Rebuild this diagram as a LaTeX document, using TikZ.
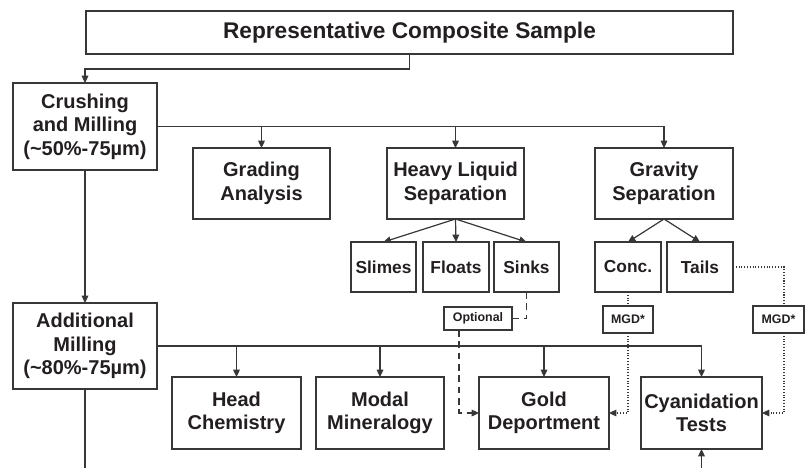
\documentclass[tikz,border=0pt]{standalone}
\usepackage{fontspec}
\setmainfont{Liberation Sans}
\usetikzlibrary{arrows.meta}
\definecolor{ink}{RGB}{35,31,32}
\definecolor{ln}{RGB}{55,55,55}
\newcommand\pbox[7][]{%
  \pgfmathsetmacro\bw{(#5-#3)*0.75}%
  \pgfmathsetmacro\bh{(#6-#4)*0.75}%
  \node[box,minimum width=\bw pt,minimum height=\bh pt,#1] (#2) at ({(#3+#5)/2},{(#4+#6)/2}) {#7};}
\begin{document}
\begin{tikzpicture}[x=0.75pt,y=-0.75pt,
  box/.style={draw=ln,line width=1.3pt,inner sep=0pt,outer sep=0pt,align=center,text=ink,
    font=\bfseries\fontsize{15}{17.6}\selectfont},
  small/.style={font=\bfseries\fontsize{13}{15}\selectfont},
  tiny/.style={font=\bfseries\fontsize{9.3}{11}\selectfont,line width=1.1pt},
  big/.style={font=\bfseries\fontsize{17}{20}\selectfont},
  conn/.style={draw=ln,line width=0.9pt},
  arr/.style={conn,-{Triangle[length=5.5pt,width=5pt]}},
  dsh/.style={draw=ln,line width=0.9pt,dash pattern=on 5pt off 3.5pt},
  dot/.style={draw=ln,line width=0.8pt,dash pattern=on 0.8pt off 1.3pt}]
\useasboundingbox (0,0) rectangle (806,468);
\pbox[big]{top}{86}{11}{733}{54}{Representative Composite Sample}
\pbox{crush}{13}{83}{157}{170}{Crushing\\and Milling\\(\textasciitilde50\%-75µm)}
\pbox{grading}{193}{148}{330}{219}{Grading\\Analysis}
\pbox{hls}{387}{148}{524}{219}{Heavy Liquid\\Separation}
\pbox{grav}{595}{148}{733}{219}{Gravity\\Separation}
\pbox[small]{slimes}{351}{242}{416}{292}{Slimes}
\pbox[small]{floats}{423}{242}{489}{292}{Floats}
\pbox[small]{sinks}{494}{242}{559}{292}{Sinks}
\pbox[small]{conc}{595}{242}{661}{292}{Conc.}
\pbox[small]{tails}{667}{242}{733}{292}{Tails}
\pbox[tiny]{optional}{444}{307}{512}{330}{Optional}
\pbox[tiny]{mgda}{603}{306}{653}{333}{MGD*}
\pbox[tiny]{mgdb}{753}{306}{804}{333}{MGD*}
\pbox{addmill}{13}{303}{157}{389}{Additional\\Milling\\(\textasciitilde80\%-75µm)}
\pbox{head}{172}{377}{301}{449}{Head\\Chemistry}
\pbox{modal}{316}{377}{444}{449}{Modal\\Mineralogy}
\pbox{gold}{479}{377}{609}{449}{Gold\\Deportment}
\pbox{cyan}{641}{377}{762}{449}{Cyanidation\\Tests}
\coordinate (bl) at (85,468);
\coordinate (br) at (701.5,468);
% solid connectors
\draw[arr] (top.south) -- ++(0,15) -| (crush.north);
\draw[arr] (crush.east) -| (grav.north);
\draw[arr] (crush.east -| grading.north) -- (grading.north);
\draw[arr] (crush.east -| hls.north) -- (hls.north);
\draw[arr] (hls.south) -- (slimes.north);
\draw[arr] (hls.south) -- (floats.north);
\draw[arr] (hls.south) -- (sinks.north);
\draw[arr] (grav.south) -- (conc.north);
\draw[arr] (grav.south) -- (tails.north);
\draw[arr] (crush.south) -- (addmill.north);
\draw[arr] (addmill.east) -| (cyan.north);
\draw[arr] (addmill.east -| head.north) -- (head.north);
\draw[arr] (addmill.east -| modal.north) -- (modal.north);
\draw[arr] (addmill.east -| gold.north) -- (gold.north);
\draw[conn] (addmill.south) -- (bl);
\draw[arr] (br) -- (cyan.south);
% dashed
\draw[dsh] (sinks.south) |- (optional.east);
\draw[dsh,-{Triangle[length=5.5pt,width=5pt]}] ([xshift=-14.25pt]optional.south) |- (gold.west);
% dotted
\draw[dot] (conc.south) -- (mgda.north);
\draw[dot,-{Triangle[length=5.5pt,width=5pt]}] (mgda.south) |- (gold.east);
\draw[dot] (tails.east) -| ([xshift=4.1pt]mgdb.north);
\draw[dot,-{Triangle[length=5.5pt,width=5pt]}] ([xshift=4.1pt]mgdb.south) |- (cyan.east);
\end{tikzpicture}
\end{document}
